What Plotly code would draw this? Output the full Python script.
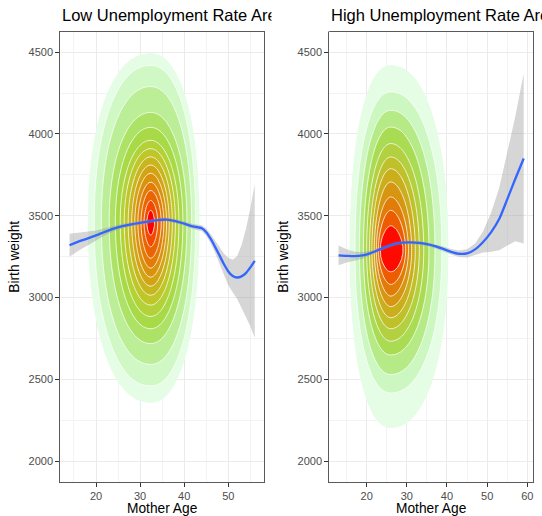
import numpy as np
import plotly.graph_objects as go

FONT = "Liberation Sans, Arial, sans-serif"

# ---------------- axes ----------------
weight_ticks = [2000, 2500, 3000, 3500, 4000, 4500]
weight_range = [1875, 4625]
low_age_range = [11.9, 58.1]
high_age_range = [10.69, 61.42]

# ---------------- 2-D density, low unemployment areas ----------------
# peak of the density and the half-extent of each contour level
# (outermost level first) in each direction from the peak
low_peak_age, low_peak_weight = 32.4, 3460
low_up = [1030, 960, 830, 670, 580, 500, 450, 400, 350, 300, 245, 195, 134, 75]
low_down = [1100, 1000, 868, 740, 650, 575, 505, 445, 390, 335, 280, 220, 150, 80]
low_left = [14.2, 12.8, 11.2, 9.4, 8.0, 6.9, 6.0, 5.1, 4.3, 3.6, 2.9, 2.2, 1.5, 0.9]
low_right = [11.0, 10.2, 9.3, 8.2, 7.3, 6.4, 5.6, 4.9, 4.2, 3.6, 3.0, 2.4, 1.6, 0.9]
low_fill = ["rgba(255,255,255,0)",
            "#E4FDE4", "#D0F8C4", "#BCEE98", "#ACE266", "#A8DA48", "#B2D238",
            "#BEC628", "#C8B61E", "#D2A414", "#DA920C", "#E27C06", "#EA6402",
            "#F24800", "#FF0000"]

# ---------------- 2-D density, high unemployment areas ----------------
high_peak_age, high_peak_weight = 26.0, 3290
high_up = [1128, 966, 854, 752, 651, 569, 498, 417, 325, 244, 150]
high_down = [1085, 871, 760, 640, 556, 480, 413, 345, 281, 210, 135]
high_left = [10.2, 8.9, 7.8, 6.8, 6.0, 5.3, 4.7, 4.1, 3.6, 3.1, 2.7]
high_right = [14.3, 12.7, 11.0, 9.5, 8.2, 7.1, 6.1, 5.2, 4.4, 3.7, 3.1]
high_fill = ["rgba(255,255,255,0)",
             "#E4FDE4", "#CCF7C0", "#B6EA86", "#A9DC52", "#B2D040", "#BFC02A",
             "#CBAE1C", "#D69612", "#E27C08", "#EE5C02", "#FF0A00"]

# contour squareness: outermost level -> innermost level
contour_power = [2.2, 1.75]

# ---------------- smoothed trend with 95% band ----------------
low_age = [14, 16, 18, 20, 22, 24, 26, 28, 30, 32, 34, 36, 38, 40, 42, 44,
           45, 46, 47, 48, 49, 50, 51, 52, 53, 54, 55, 56]
low_fit = [3320, 3342, 3360, 3380, 3402, 3422, 3437, 3448, 3457, 3465, 3474, 3477,
           3468, 3452, 3435, 3424, 3400, 3360, 3310, 3258, 3205, 3160, 3132, 3123,
           3130, 3150, 3185, 3225]
low_half = [70, 55, 40, 30, 22, 17, 14, 12, 11, 11, 11, 11, 12, 13, 15, 18,
            22, 28, 36, 48, 64, 84, 100, 130, 190, 270, 360, 470]

high_age = [13, 15, 17, 19, 21, 23, 25, 27, 29, 31, 33, 35, 37, 39, 41, 43,
            45, 47, 49, 51, 53, 55, 57, 59.1]
high_fit = [3258, 3255, 3253, 3258, 3272, 3292, 3312, 3328, 3336, 3337, 3334, 3327,
            3315, 3298, 3280, 3268, 3270, 3295, 3340, 3400, 3480, 3600, 3725, 3850]
high_half = [60, 40, 28, 20, 15, 12, 11, 10, 10, 10, 11, 12, 13, 15, 17, 20,
             25, 35, 65, 120, 190, 280, 380, 520]


def density_surface(ages, weights, peak_age, peak_weight, left, right, up, down):
    """Surface whose integer-level contours pass through the given half-extents."""
    A, W = np.meshgrid(ages, weights)
    dx = np.abs(A - peak_age)
    dy = np.abs(W - peak_weight)
    on_left = A < peak_age
    above = W > peak_weight
    n = len(up)
    lev = np.concatenate([[0.0], np.arange(1, n + 1), [n + 0.7]])

    def ext(vals):
        v = np.asarray(vals, float)
        return np.concatenate([[v[0] * 1.3], v, [v[-1] * 0.05]])

    eL, eR, eU, eD = ext(left), ext(right), ext(up), ext(down)
    fine = np.linspace(0.0, n + 0.7, 500)
    z = np.full(A.shape, -0.5)
    g_prev = None
    for i, L in enumerate(fine):
        p = np.interp(L, [1, n], contour_power)
        ax = np.where(on_left, np.interp(L, lev, eL), np.interp(L, lev, eR))
        ay = np.where(above, np.interp(L, lev, eU), np.interp(L, lev, eD))
        g = (dx / ax) ** p + (dy / ay) ** p
        if g_prev is not None:
            cross = (g_prev <= 1) & (g > 1)
            t = (1 - g_prev) / np.where(cross, g - g_prev, 1.0)
            z = np.where(cross, fine[i - 1] + t * (L - fine[i - 1]), z)
        g_prev = g
    z = np.where(g_prev <= 1, fine[-1], z)
    return np.round(z, 3)


def stepped_scale(colors):
    n = len(colors) - 1
    scale = []
    for j, c in enumerate(colors):
        lo = max(0.0, (j - 0.5) / n)
        hi = min(1.0, (j + 0.5) / n)
        scale += [[lo, c], [hi, c]]
    return scale


weights_grid = np.arange(1950, 4650.1, 12.5)

fig = go.Figure()


def add_panel(xa, ya, ages_grid, peak_age, peak_weight, left, right, up, down,
              fill, age, fit, half):
    z = density_surface(ages_grid, weights_grid, peak_age, peak_weight,
                        left, right, up, down)
    n = len(up)
    fig.add_trace(go.Contour(
        x=ages_grid, y=weights_grid, z=z, xaxis=xa, yaxis=ya,
        autocontour=False,
        contours=dict(start=1, end=n, size=1, coloring="fill", showlines=False),
        colorscale=stepped_scale(fill), showscale=False,
        line=dict(width=0, smoothing=1), hoverinfo="skip"))
    fig.add_trace(go.Contour(
        x=ages_grid, y=weights_grid, z=z, xaxis=xa, yaxis=ya,
        autocontour=False,
        contours=dict(start=2, end=n, size=1, coloring="none", showlines=True),
        line=dict(color="white", width=0.8, smoothing=1),
        showscale=False, hoverinfo="skip"))
    upper = [f + h for f, h in zip(fit, half)]
    lower = [f - h for f, h in zip(fit, half)]
    fig.add_trace(go.Scatter(
        x=list(age) + list(age)[::-1], y=upper + lower[::-1],
        xaxis=xa, yaxis=ya, fill="toself", fillcolor="rgba(153,153,153,0.4)",
        line=dict(width=0), mode="lines", hoverinfo="skip", showlegend=False))
    fig.add_trace(go.Scatter(
        x=age, y=fit, xaxis=xa, yaxis=ya, mode="lines",
        line=dict(color="#3366FF", width=2.3, shape="spline", smoothing=0.6),
        showlegend=False))


add_panel("x", "y", np.arange(12, 50.01, 0.25), low_peak_age, low_peak_weight,
          low_left, low_right, low_up, low_down, low_fill,
          low_age, low_fit, low_half)
add_panel("x2", "y2", np.arange(11, 45.01, 0.25), high_peak_age, high_peak_weight,
          high_left, high_right, high_up, high_down, high_fill,
          high_age, high_fit, high_half)

W, H = 542, 516
panel_top, panel_bottom = 31.7, 481.7
ydom = [1 - panel_bottom / H, 1 - panel_top / H]
left_px = (60.3, 264.0)
right_px = (329.3, 533.0)

axis_common = dict(
    showgrid=True, gridcolor="#EBEBEB", gridwidth=1.1, zeroline=False,
    showline=True, linecolor="#5A5A5A", linewidth=1.1, mirror=True,
    ticks="outside", ticklen=4, tickwidth=1, tickcolor="#333333",
    tickfont=dict(family=FONT, size=11, color="#4D4D4D"),
)
xcommon = dict(axis_common, tick0=0, dtick=10,
               minor=dict(dtick=5, tick0=0, showgrid=True, gridcolor="#F3F3F3", gridwidth=0.6))
ycommon = dict(axis_common, tickvals=weight_ticks, range=weight_range,
               minor=dict(dtick=250, tick0=0, showgrid=True, gridcolor="#F3F3F3", gridwidth=0.6))

fig.update_layout(
    width=W, height=H, margin=dict(l=0, r=0, t=0, b=0),
    paper_bgcolor="white", plot_bgcolor="white", showlegend=False,
    xaxis=dict(xcommon, domain=[left_px[0] / W, left_px[1] / W], range=low_age_range, anchor="y"),
    yaxis=dict(ycommon, domain=ydom, anchor="x"),
    xaxis2=dict(xcommon, domain=[right_px[0] / W, right_px[1] / W], range=high_age_range, anchor="y2"),
    yaxis2=dict(ycommon, domain=ydom, anchor="x2"),
)

title_font = dict(family=FONT, size=16.5, color="black")
label_font = dict(family=FONT, size=13.75, color="black")
annotations = [
    dict(text="Low Unemployment Rate Area", x=left_px[0] / W, y=1 - 15 / H,
         xanchor="left", yanchor="middle", font=title_font),
    # the left plot's title is cut at the edge of its own plot area
    dict(text=" ", x=271 / W, y=1.0, xanchor="left", yanchor="top",
         width=57, height=30, bgcolor="white", borderpad=0, font=title_font),
    dict(text="High Unemployment Rate Area", x=right_px[0] / W, y=1 - 15 / H,
         xanchor="left", yanchor="middle", font=title_font),
    dict(text="Mother Age", x=sum(left_px) / 2 / W, y=1 - 508 / H,
         xanchor="center", yanchor="middle", font=label_font),
    dict(text="Mother Age", x=sum(right_px) / 2 / W, y=1 - 508 / H,
         xanchor="center", yanchor="middle", font=label_font),
    dict(text="Birth weight", x=15 / W, y=1 - (panel_top + panel_bottom) / 2 / H,
         textangle=-90, xanchor="center", yanchor="middle", font=label_font),
    dict(text="Birth weight", x=284 / W, y=1 - (panel_top + panel_bottom) / 2 / H,
         textangle=-90, xanchor="center", yanchor="middle", font=label_font),
]
for a in annotations:
    a.update(xref="paper", yref="paper", showarrow=False)
fig.update_layout(annotations=annotations)

fig.write_html("out.html")
